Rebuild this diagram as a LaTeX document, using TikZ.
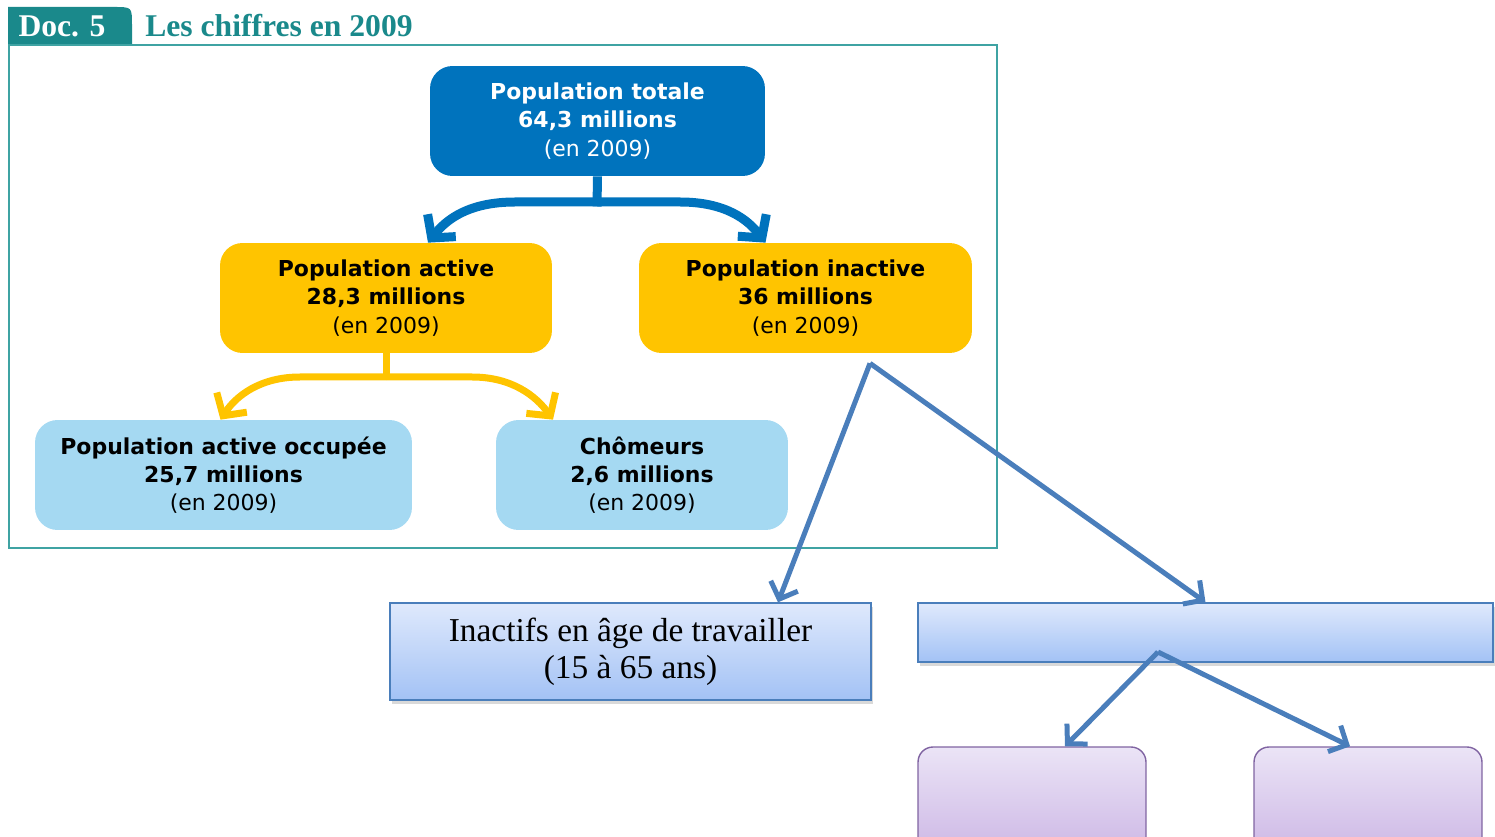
\documentclass[tikz,border=0pt]{standalone}
\usepackage{fontspec}
\setmainfont{Liberation Serif}
\newfontfamily\verdana{DejaVu Sans}
\usetikzlibrary{arrows.meta,calc,shadows}

\definecolor{sarcelle}{HTML}{1A898B}
\definecolor{cadrec}{HTML}{3FA3A3}
\definecolor{bleufonce}{HTML}{0073BD}
\definecolor{jaune}{HTML}{FFC400}
\definecolor{bleuclair}{HTML}{A5D9F2}
\definecolor{trait}{HTML}{4A7EBB}
\definecolor{ghaut}{HTML}{DFE9FC}
\definecolor{gbas}{HTML}{A3C2F5}
\definecolor{vhaut}{HTML}{EBE4F6}
\definecolor{vbas}{HTML}{CCB6E5}
\definecolor{vbord}{HTML}{8064A2}

\newcommand{\bloc}[2]{\textbf{#1}\\\textbf{#2}\\(en 2009)}

\begin{document}
\begin{tikzpicture}[x=0.02cm,y=-0.02cm,
	boite/.style={rounded corners=0.45cm, minimum height=2.2cm, align=center, inner sep=0pt,
		font=\verdana\fontsize{12.5}{16}\selectfont},
	rect/.style={draw=trait, line width=0.8pt, top color=ghaut, bottom color=gbas, align=center,
		drop shadow={shadow xshift=1pt, shadow yshift=-2pt, opacity=0.3}},
	mauve/.style={draw=vbord, line width=0.8pt, top color=vhaut, bottom color=vbas, rounded corners=0.3cm,
		minimum width=4.56cm, minimum height=2.2cm},
	grosse/.style={line width=0.18cm, -{Straight Barb[length=0.32cm,width=0.72cm]}},
	fleche/.style={draw=trait, line width=0.1cm, -{Straight Barb[length=0.28cm,width=0.58cm]}}]
	\clip (0,0) rectangle (1495,837);
	% en-tete
	\fill[sarcelle] (8,46) -- (8,7) -- (114,7) .. controls (132,7) .. (132,25) -- (132,46) -- cycle;
	\node[text=white, font=\bfseries\fontsize{18}{20}\selectfont] (doc) at (62,26) {Doc. 5};
	\node[text=sarcelle, anchor=west, inner sep=0pt, font=\bfseries\fontsize{18}{20}\selectfont] (titre) at (145,26) {Les chiffres en 2009};
	\draw[cadrec, line width=1.2pt] (9,45) rectangle (997,548);
	% schema du document
	\node[boite, fill=bleufonce, text=white, minimum width=6.7cm] (tot) at (597.5,121) {\bloc{Population totale}{64,3 millions}};
	\node[boite, fill=jaune, minimum width=6.64cm] (act) at (386,298) {\bloc{Population active}{28,3 millions}};
	\node[boite, fill=jaune, minimum width=6.66cm] (inact) at (805.5,298) {\bloc{Population inactive}{36 millions}};
	\node[boite, fill=bleuclair, minimum width=7.54cm] (occ) at (223.5,475) {\bloc{Population active occupée}{25,7 millions}};
	\node[boite, fill=bleuclair, minimum width=5.84cm] (chom) at (642,475) {\bloc{Chômeurs}{2,6 millions}};
	\coordinate (jb) at (597,202);
	\coordinate (jy) at (386,377);
	\draw[bleufonce, line width=0.18cm] (tot.south) -- ($(jb)+(0,4.5)$);
	\draw[bleufonce, grosse] (jb) -- (515,202) .. controls (468,202) and (446,220) .. ($(act.north)+(42,0)$);
	\draw[bleufonce, grosse] (jb) -- (680,202) .. controls (726,202) and (748,220) .. ($(inact.north)+(-40,0)$);
	\draw[jaune, line width=0.14cm] (act.south) -- ($(jy)+(0,3.5)$);
	\draw[jaune, grosse, line width=0.14cm] (jy) -- (300,377) .. controls (260,377) and (236,396) .. ($(occ.north)+(-3,0)$);
	\draw[jaune, grosse, line width=0.14cm] (jy) -- (472,377) .. controls (512,377) and (536,396) .. ($(chom.north)+(-89,0)$);
	% boites a completer
	\node[rect, minimum width=9.62cm, minimum height=1.94cm, font=\fontsize{19}{21}\selectfont] (inactifs) at (630.5,651.5) {Inactifs en âge de travailler\\(15 à 65 ans)};
	\node[rect, minimum width=11.5cm, minimum height=1.18cm] (vide) at (1205.5,632.5) {};
	\node[mauve] (m1) at (1032,802) {};
	\node[mauve] (m2) at (1368,802) {};
	\coordinate (sommet) at ($(inact.south)+(64.5,10)$);
	\coordinate (sommet2) at (1158,652);
	\draw[fleche] (sommet) -- ($(inactifs.north)+(147.5,0)$);
	\draw[fleche] (sommet) -- (vide.north);
	\draw[fleche] (sommet2) -- ($(m1.north)+(33,0)$);
	\draw[fleche] (sommet2) -- ($(m2.north)+(-18,0)$);
\end{tikzpicture}
\end{document}
